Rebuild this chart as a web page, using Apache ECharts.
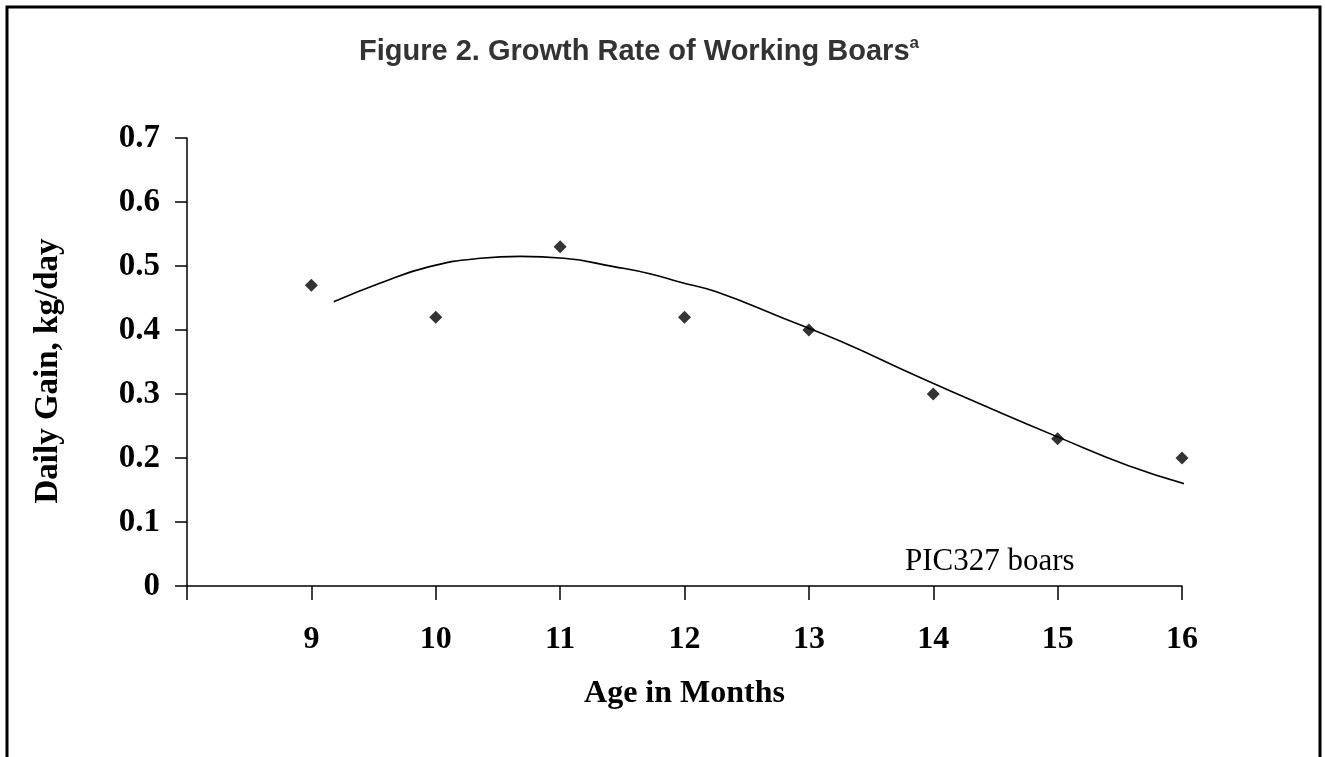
<!DOCTYPE html>
<html>
<head>
<meta charset="utf-8">
<title>Growth Rate of Working Boars</title>
<script src="https://cdn.jsdelivr.net/npm/echarts@6/dist/echarts.min.js"></script>
<style>
    html, body { margin: 0; padding: 0; background: #fff; }
    #chart { width: 1325px; height: 757px; }
</style>
</head>
<body>
<div id="chart"></div>
<script>
// 数据
var ages = [9, 10, 11, 12, 13, 14, 15, 16];
var gains = [0.47, 0.42, 0.53, 0.42, 0.40, 0.30, 0.23, 0.20];
// 趋势线
var trendX = [9.18, 9.55, 9.95, 10.36, 10.68, 11.03, 11.43, 11.72, 11.96, 12.25, 12.80, 13.26, 13.88, 14.49, 15.0, 15.57, 16.09];
var trendY = [0.444, 0.473, 0.499, 0.512, 0.515, 0.512, 0.499, 0.488, 0.475, 0.460, 0.418, 0.382, 0.327, 0.275, 0.233, 0.188, 0.156];

!function () {
    var myChart = echarts.init(document.getElementById("chart"));
    var serif = '"Liberation Serif", "Times New Roman", serif';
    var sans = '"Liberation Sans", Arial, sans-serif';

    var points = ages.map(function (a, i) { return [a, gains[i]]; });
    var trend = trendX.map(function (x, i) { return [x, trendY[i]]; });

    var option = {
        animation: false,
        backgroundColor: '#fff',
        title: {
            text: '{t|Figure 2. Growth Rate of Working Boars}{s|a}',
            left: 354,
            top: 30,
            textStyle: {
                rich: {
                    t: { fontFamily: sans, fontWeight: 'bold', fontSize: 29, color: '#333', lineHeight: 34 },
                    s: { fontFamily: sans, fontWeight: 'bold', fontSize: 17, color: '#333', verticalAlign: 'top', lineHeight: 18 }
                }
            }
        },
        // 外框
        graphic: [{
            type: 'rect',
            shape: { x: 7, y: 7, width: 1313, height: 800 },
            style: { fill: 'none', stroke: '#000', lineWidth: 3 },
            silent: true
        }, {
            type: 'text',
            left: 905,
            top: 546,
            style: { text: 'PIC327 boars', font: '31px ' + serif, fill: '#000' }
        }],
        grid: {
            left: 187,
            right: 143,
            top: 138,
            bottom: 171,
            containLabel: false
        },
        xAxis: {
            type: 'value',
            min: 8,
            max: 16,
            interval: 1,
            name: 'Age in Months',
            nameLocation: 'middle',
            nameGap: 92,
            nameTextStyle: { fontFamily: serif, fontWeight: 'bold', fontSize: 32, color: '#000', lineHeight: 32 },
            splitLine: { show: false },
            axisLine: { onZero: false, lineStyle: { color: '#000', width: 1.5 } },
            axisTick: { show: true, length: 14, lineStyle: { color: '#000', width: 1.5 } },
            axisLabel: {
                margin: 38,
                fontFamily: serif,
                fontWeight: 'bold',
                fontSize: 32,
                lineHeight: 32,
                color: '#000',
                formatter: function (v) { return v === 8 ? '' : String(v); }
            }
        },
        yAxis: {
            type: 'value',
            min: 0,
            max: 0.7,
            interval: 0.1,
            name: 'Daily Gain, kg/day',
            nameLocation: 'middle',
            nameGap: 122,
            nameTextStyle: { fontFamily: serif, fontWeight: 'bold', fontSize: 33, color: '#000', padding: [0, 18, 0, 0] },
            splitLine: { show: false },
            axisLine: { show: true, lineStyle: { color: '#000', width: 1.5 } },
            axisTick: { show: true, length: 12, lineStyle: { color: '#000', width: 1.5 } },
            axisLabel: {
                margin: 27,
                fontFamily: serif,
                fontWeight: 'bold',
                fontSize: 33,
                color: '#000',
                formatter: function (v) { return v === 0 ? '0' : v.toFixed(1); }
            }
        },
        series: [{
            type: 'scatter',
            data: points,
            symbol: 'diamond',
            symbolSize: 13,
            itemStyle: { color: '#000' }
        }, {
            type: 'line',
            data: trend,
            smooth: true,
            showSymbol: false,
            clip: false,
            lineStyle: { color: '#000', width: 1.6 }
        }]
    };
    myChart.setOption(option);
}();
</script>
</body>
</html>
